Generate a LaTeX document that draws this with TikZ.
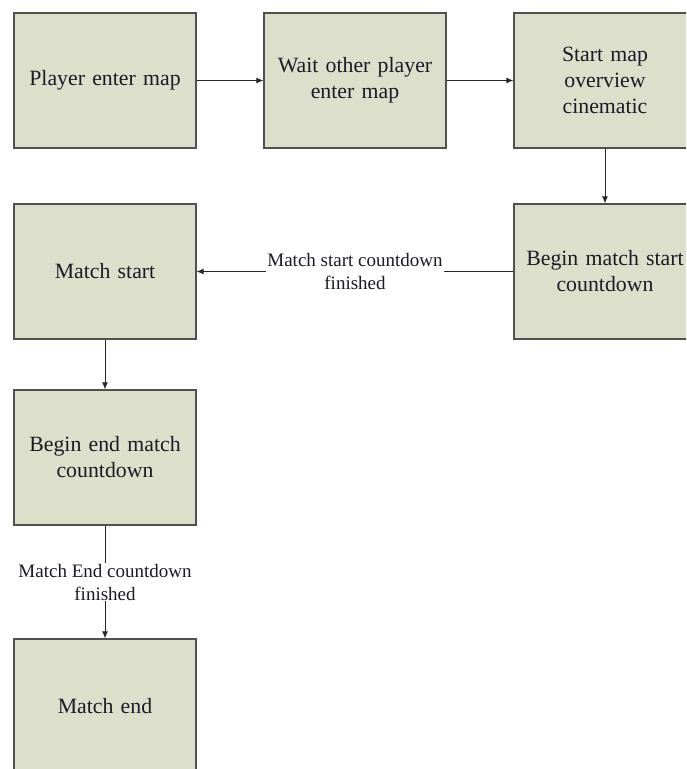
\documentclass[tikz,border=0pt]{standalone}
\usepackage{fontspec}
\setmainfont{Liberation Serif}
\usetikzlibrary{arrows.meta}
\definecolor{boxfill}{HTML}{DCE0CA}
\definecolor{boxline}{HTML}{505050}
\definecolor{txt}{HTML}{1A1A28}
\tikzset{
  stage/.style={draw=boxline, line width=1.3pt, fill=boxfill, minimum width=182pt,
    minimum height=135pt, inner sep=0pt, align=center, text width=178pt,
    text=txt, font=\fontsize{21.8}{26}\selectfont},
  flow/.style={draw=black!85, line width=0.9pt, -{Latex[length=7pt,width=6pt]}},
  flowlabel/.style={fill=white, text=txt, align=center, inner sep=1pt,
    font=\fontsize{19}{23}\selectfont}
}
\begin{document}
\begin{tikzpicture}[x=1pt,y=-1pt]
  \useasboundingbox (0,0) rectangle (686,769);
  \clip (0,0) rectangle (686,769);
  \fill[white] (0,0) rectangle (686,769);
  \node[stage] (enter)   at (105,80.5)  {Player enter map};
  \node[stage] (wait)    at (355,80.5)  {Wait other player\\enter map};
  \node[stage] (cine)    at (605,80.5)  {Start map\\overview\\cinematic};
  \node[stage] (count)   at (605,271.5) {Begin match start\\countdown};
  \node[stage] (mstart)  at (105,271.5) {Match start};
  \node[stage] (endcd)   at (105,457.5) {Begin end match\\countdown};
  \node[stage] (mend)    at (105,706.5) {Match end};

  \draw[flow] (enter) -- (wait);
  \draw[flow] (wait) -- (cine);
  \draw[flow] (cine) -- (count);
  \draw[flow] (count) -- node[flowlabel] {Match start countdown\\finished} (mstart);
  \draw[flow] (mstart) -- (endcd);
  \draw[flow] (endcd) -- node[flowlabel] {Match End countdown\\finished} (mend);
\end{tikzpicture}
\end{document}
